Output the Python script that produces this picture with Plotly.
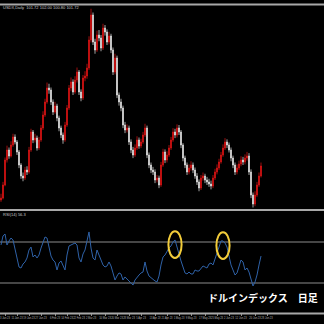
import plotly.graph_objects as go

# ---------------- data ----------------
first_open = 99.00
closes = [99.16, 100.20, 102.20, 103.00, 102.52, 103.40, 104.04, 103.64, 102.84, 101.80,
          100.92, 100.76, 101.40, 101.24, 103.00, 104.44, 103.80, 103.96, 103.16, 103.80,
          104.76, 105.80, 106.84, 107.96, 107.80, 106.84, 106.04, 106.52, 105.56, 104.76,
          104.20, 103.80, 105.00, 106.36, 107.96, 108.44, 107.64, 108.60, 109.24, 107.64,
          107.16, 108.76, 108.92, 109.56, 111.80, 113.80, 111.64, 111.00, 112.20, 111.96,
          111.16, 112.76, 112.44, 111.64, 112.12, 111.00, 109.24, 110.36, 107.40, 106.84,
          106.36, 105.00, 104.60, 104.76, 103.64, 103.00, 102.60, 103.16, 103.80, 103.32,
          103.64, 104.20, 104.76, 102.60, 101.80, 101.40, 101.24, 100.60, 100.76, 100.20,
          101.80, 102.84, 102.20, 102.60, 103.16, 103.80, 104.44, 104.20, 104.76, 104.44,
          103.40, 102.36, 101.80, 101.24, 101.56, 101.80, 101.40, 100.92, 100.44, 99.96,
          100.76, 100.92, 100.60, 100.44, 100.28, 100.12, 100.76, 101.24, 101.56, 102.04,
          102.60, 103.16, 103.64, 103.40, 103.00, 102.36, 101.80, 101.24, 101.56, 101.88,
          102.20, 102.04, 102.36, 102.52, 101.24, 99.40, 98.68, 99.40, 100.20, 100.92,
          101.72]
highs = [99.50, 100.45, 102.40, 103.35, 103.20, 103.70, 104.30, 104.25, 103.80, 103.00,
         101.95, 101.20, 101.65, 101.70, 103.25, 104.70, 104.60, 104.30, 104.15, 104.05,
         105.00, 106.10, 107.10, 108.40, 108.30, 108.00, 107.05, 106.85, 106.70, 105.75,
         104.95, 104.40, 105.25, 106.60, 108.20, 108.80, 108.65, 108.90, 109.60, 109.40,
         107.85, 109.00, 109.30, 109.90, 112.10, 114.30, 114.00, 111.90, 112.55, 112.60,
         112.20, 113.10, 113.00, 112.65, 112.45, 112.30, 111.20, 110.70, 110.55, 107.60,
         107.10, 106.55, 105.25, 105.05, 104.95, 103.85, 103.25, 103.45, 104.10, 104.00,
         103.90, 104.45, 105.10, 104.95, 102.80, 102.00, 101.65, 101.45, 101.00, 100.95,
         102.05, 103.10, 103.05, 102.90, 103.40, 104.05, 104.75, 104.70, 105.05, 105.00,
         104.60, 103.55, 102.55, 102.00, 101.85, 102.10, 102.00, 101.60, 101.15, 100.65,
         101.00, 101.20, 101.10, 100.85, 100.70, 100.55, 101.00, 101.50, 101.85, 102.30,
         102.85, 103.45, 103.95, 103.85, 103.60, 103.20, 102.55, 102.00, 101.85, 102.15,
         102.50, 102.45, 102.65, 102.85, 102.75, 101.45, 99.60, 99.70, 100.45, 101.20,
         102.00]
lows = [98.85, 99.05, 100.10, 102.00, 102.30, 102.40, 103.25, 103.45, 102.60, 101.55,
        100.70, 100.50, 100.60, 101.00, 101.10, 102.85, 103.55, 103.60, 102.95, 103.00,
        103.65, 104.60, 105.65, 106.70, 107.50, 106.60, 105.80, 105.90, 105.30, 104.50,
        103.95, 103.50, 103.65, 104.85, 106.20, 107.70, 107.40, 107.50, 108.40, 107.40,
        106.90, 107.00, 108.50, 108.70, 109.40, 111.60, 111.40, 110.70, 110.85, 111.70,
        110.90, 111.00, 112.15, 111.40, 111.45, 110.75, 109.00, 109.05, 107.15, 106.55,
        106.10, 104.75, 104.35, 104.40, 103.40, 102.75, 102.35, 102.45, 103.00, 103.10,
        103.15, 103.50, 104.05, 102.35, 101.55, 101.15, 101.00, 100.35, 100.40, 99.95,
        100.05, 101.65, 101.95, 102.00, 102.45, 103.00, 103.65, 103.95, 104.00, 104.20,
        103.15, 102.10, 101.55, 101.00, 101.05, 101.35, 101.15, 100.70, 100.20, 99.70,
        99.80, 100.55, 100.35, 100.20, 100.05, 99.85, 99.95, 100.60, 101.05, 101.40,
        101.90, 102.45, 103.00, 103.15, 102.80, 102.10, 101.55, 101.00, 101.05, 101.40,
        101.70, 101.80, 101.85, 102.15, 101.00, 99.15, 98.40, 98.50, 99.25, 100.05,
        100.80]
opens = [first_open] + closes[:-1]

rsi = [67.1, 75.9, 77.8, 67.1, 71.0, 73.9, 72.0, 62.2, 52.4, 45.6,
       44.6, 48.5, 50.5, 54.4, 62.2, 65.1, 55.4, 57.3, 54.4, 57.3,
       64.1, 70.0, 74.9, 73.9, 64.1, 56.3, 52.4, 50.5, 42.7, 49.5,
       51.5, 46.6, 42.7, 57.3, 66.1, 67.1, 68.0, 69.0, 67.1, 54.4,
       50.5, 58.3, 62.2, 72.0, 79.8, 64.1, 54.4, 52.4, 62.2, 57.3,
       52.4, 47.6, 45.6, 46.6, 50.5, 46.6, 39.8, 32.9, 36.8, 39.8,
       38.8, 32.9, 35.9, 33.9, 32.0, 30.0, 28.0, 32.9, 35.9, 37.8,
       39.8, 40.7, 50.5, 41.7, 36.8, 34.9, 33.9, 32.0, 31.0, 36.8,
       47.6, 55.4, 57.3, 61.2, 64.1, 66.1, 70.0, 72.0, 66.1, 58.3,
       51.5, 44.6, 39.8, 38.8, 40.7, 38.8, 38.8, 42.7, 41.7, 41.7,
       44.6, 46.6, 45.6, 44.6, 48.5, 49.5, 47.6, 53.4, 60.2, 67.1,
       71.0, 71.0, 69.0, 65.1, 56.3, 47.6, 42.7, 37.8, 39.8, 47.6,
       52.4, 50.5, 42.7, 44.6, 40.7, 33.9, 27.1, 31.0, 37.8, 47.6,
       56.3]
rsi_levels = [70, 30]

tick_idx = [2, 8, 14, 20, 27, 33, 39, 45, 52, 58, 64, 70, 77, 83, 89, 95,
            102, 108, 114, 120, 127, 133]
tick_labels = ["3 Jan 23", "11 Jan 23", "19 Jan 23", "27 Jan 23", "6 Feb 23",
               "14 Feb 23", "22 Feb 23", "2 Mar 23", "10 Mar 23", "20 Mar 23",
               "28 Mar 23", "5 Apr 23", "13 Apr 23", "21 Apr 23", "1 May 23",
               "9 May 23", "17 May 23", "25 May 23", "2 Jun 23", "12 Jun 23",
               "20 Jun 23", "28 Jun 23"]
highlight_idx = [87, 111]

title_text = "USDX,Daily  101.72 102.00 100.80 101.72"
ind_label = "RSI(14) 56.3"
caption = "ドルインデックス\u2002\u2002日足"

# ---------------- figure ----------------
W = H = 324
x = list(range(len(closes)))

def py(p):  # pixel row -> paper y
    return 1 - p / H

fig = go.Figure()
fig.add_trace(go.Candlestick(
    x=x, open=opens, high=highs, low=lows, close=closes,
    increasing=dict(line=dict(color="#e01414", width=0.7), fillcolor="#e01414"),
    decreasing=dict(line=dict(color="#e6e6e6", width=0.7), fillcolor="#e6e6e6"),
    whiskerwidth=0, xaxis="x", yaxis="y", showlegend=False, hoverinfo="skip"))
fig.add_trace(go.Scatter(
    x=x, y=rsi, mode="lines", line=dict(color="#2f62a8", width=1),
    xaxis="x", yaxis="y2", showlegend=False, hoverinfo="skip"))

shapes = []
for lv in rsi_levels:
    shapes.append(dict(type="line", xref="paper", x0=0, x1=1, yref="y2", y0=lv, y1=lv,
                       line=dict(color="#8c8c8c", width=1), layer="below"))
for p in [4.5, 210, 313.5]:
    shapes.append(dict(type="line", xref="paper", x0=0, x1=1, yref="paper",
                       y0=py(p), y1=py(p), line=dict(color="#a8a8a8", width=2)))
for idx in highlight_idx:
    c = rsi[idx] - 4.5
    shapes.append(dict(type="circle", xref="x", yref="y2",
                       x0=idx - 3.3, x1=idx + 3.3, y0=c - 13, y1=c + 13,
                       line=dict(color="#f2cc3a", width=2)))

annotations = [
    dict(text=title_text, xref="paper", yref="paper", x=1 / W, y=py(7.5),
         xanchor="left", yanchor="middle", showarrow=False,
         font=dict(size=4, color="#c8c8c8", family="Liberation Sans")),
    dict(text=ind_label, xref="paper", yref="paper", x=1 / W, y=py(214),
         xanchor="left", yanchor="middle", showarrow=False,
         font=dict(size=4, color="#c8c8c8", family="Liberation Sans")),
    dict(text=caption, xref="paper", yref="paper", x=263 / W, y=py(297),
         xanchor="center", yanchor="middle", showarrow=False,
         font=dict(size=10, color="#ffffff", family="Noto Sans CJK JP", weight="bold")),
]

fig.update_layout(
    template="none",
    width=W, height=H, margin=dict(l=0, r=0, t=0, b=0, autoexpand=False),
    paper_bgcolor="#000000", plot_bgcolor="#000000",
    shapes=shapes, annotations=annotations, showlegend=False,
    xaxis=dict(domain=[0, 1], range=[-0.5, 161.5], anchor="y2", showgrid=False,
               zeroline=False, rangeslider=dict(visible=False), automargin=False,
               tickmode="array", tickvals=tick_idx, ticktext=tick_labels, tickangle=0,
               ticks="outside", ticklen=2, tickcolor="#8c8c8c",
               tickfont=dict(size=2.6, color="#b4b4b4", family="Liberation Sans"),
               showline=False, fixedrange=True),
    yaxis=dict(domain=[py(209), py(5)], range=[98.28, 114.6], visible=False,
               showgrid=False, zeroline=False, automargin=False),
    yaxis2=dict(domain=[py(313), py(211)], range=[0.73, 100.24], visible=False,
                showgrid=False, zeroline=False, automargin=False),
)

fig.write_html("out.html")
